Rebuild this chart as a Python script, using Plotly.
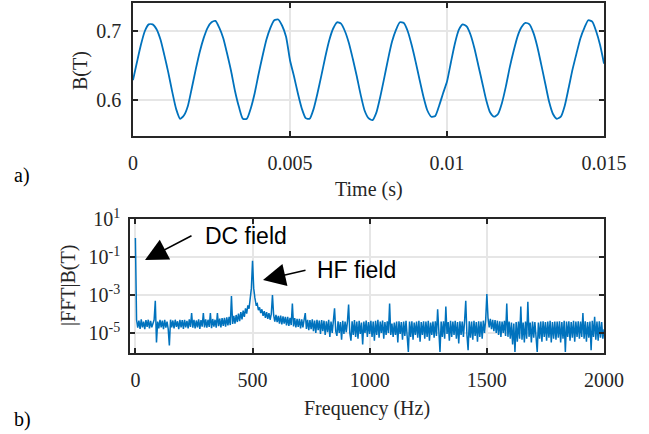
import plotly.graph_objects as go

W, H = 649, 434

# ---- top panel: B(T) vs time ----
time_ms = [i * 0.125 for i in range(121)]
b_field = [
    0.629, 0.655, 0.680, 0.700, 0.710, 0.710, 0.703, 0.688, 0.665, 0.640,
    0.612, 0.587, 0.573, 0.578, 0.592, 0.618, 0.645, 0.670, 0.690, 0.705,
    0.713, 0.715, 0.705, 0.690, 0.667, 0.642, 0.613, 0.590, 0.573, 0.573,
    0.588, 0.610, 0.638, 0.664, 0.688, 0.705, 0.716, 0.717, 0.708, 0.692,
    0.658, 0.635, 0.610, 0.588, 0.574, 0.573, 0.587, 0.610, 0.636, 0.663,
    0.687, 0.704, 0.713, 0.711, 0.700, 0.683, 0.660, 0.635, 0.608, 0.585,
    0.574, 0.571, 0.582, 0.605, 0.632, 0.660, 0.685, 0.702, 0.713, 0.712,
    0.700, 0.680, 0.656, 0.630, 0.605, 0.585, 0.576, 0.577, 0.592, 0.610,
    0.627, 0.655, 0.682, 0.702, 0.710, 0.707, 0.695, 0.675, 0.650, 0.625,
    0.600, 0.582, 0.576, 0.580, 0.596, 0.620, 0.648, 0.672, 0.693, 0.706,
    0.712, 0.710, 0.698, 0.678, 0.652, 0.625, 0.598, 0.580, 0.573, 0.576,
    0.592, 0.618, 0.645, 0.668, 0.690, 0.705, 0.716, 0.714, 0.700, 0.680,
    0.653,
]
time_s = [t / 1000.0 for t in time_ms]

# ---- bottom panel: log10 |FFT| sampled every 5 Hz, 0..2000 Hz ----
fft_log10 = [
    # 0 - 95
    0.0, -4.3, -4.72, -4.35, -4.78, -4.28, -4.7, -4.4, -4.8, -4.32,
    -4.68, -4.3, -4.75, -4.36, -4.7, -4.45, -4.3, -3.3, -5.5, -4.4,
    # 100 - 195
    -4.75, -4.3, -4.7, -4.35, -4.8, -4.3, -4.72, -4.4, -4.78, -5.65,
    -4.3, -4.7, -4.34, -4.76, -4.3, -4.68, -4.38, -4.8, -4.3, -4.7,
    # 200 - 295
    -4.32, -4.78, -4.3, -4.7, -4.36, -4.75, -4.28, -4.68, -3.95, -4.72,
    -4.3, -4.76, -4.34, -4.7, -4.28, -4.78, -4.32, -4.66, -3.95, -4.7,
    # 300 - 395
    -4.28, -4.72, -4.3, -4.68, -3.95, -4.74, -4.26, -4.66, -4.3, -4.72,
    -3.95, -4.64, -4.24, -4.7, -4.22, -4.62, -4.2, -4.66, -4.18, -4.6,
    # 400 - 495
    -4.15, -4.58, -3.05, -4.52, -4.1, -4.5, -4.05, -4.42, -3.98, -4.38,
    -3.9, -4.28, -3.82, -4.15, -3.7, -3.98, -3.55, -3.72, -3.2, -2.65,
    # 500 - 595
    -1.2, -2.65, -3.15, -3.5, -3.45, -3.8, -3.65, -3.95, -3.75, -4.1,
    -3.85, -4.2, -3.9, -4.25, -3.95, -4.3, -4.0, -3.0, -4.05, -4.4,
    # 600 - 695
    -4.05, -4.42, -4.1, -4.5, -4.08, -4.55, -4.12, -4.5, -4.15, -4.6,
    -4.15, -4.62, -4.2, -4.58, -3.45, -4.65, -4.22, -4.7, -4.25, -4.68,
    # 700 - 795
    -4.25, -4.75, -4.28, -4.7, -4.3, -3.95, -4.78, -4.3, -4.85, -4.32,
    -4.8, -4.28, -4.9, -4.35, -5.0, -4.3, -4.85, -4.35, -5.05, -4.32,
    # 800 - 895
    -4.9, -4.35, -5.1, -4.38, -4.95, -4.3, -5.2, -4.4, -5.0, -4.35,
    -3.7, -4.9, -5.15, -4.38, -5.0, -4.42, -5.35, -4.36, -5.05, -4.4,
    # 900 - 995
    -4.95, -4.4, -3.5, -5.0, -5.4, -4.38, -5.1, -4.32, -5.2, -4.4,
    -5.3, -4.36, -5.05, -4.45, -5.6, -4.4, -5.0, -4.34, -5.2, -4.42,
    # 1000 - 1095
    -5.05, -4.36, -5.2, -4.4, -5.4, -4.35, -5.1, -4.3, -5.25, -4.4,
    -5.0, -4.34, -5.3, -4.42, -5.1, -4.38, -5.0, -3.45, -5.1, -4.5,
    # 1100 - 1195
    -5.2, -4.45, -5.1, -4.4, -5.5, -4.38, -5.05, -4.42, -5.35, -4.4,
    -5.15, -4.36, -5.0, -6.0, -4.4, -5.2, -4.38, -5.35, -4.45, -5.1,
    # 1200 - 1295
    -4.4, -5.25, -4.36, -5.45, -4.42, -5.1, -4.38, -5.3, -4.4, -5.2,
    -4.35, -5.4, -4.45, -5.1, -4.4, -5.25, -4.38, -5.15, -3.75, -5.1,
    # 1300 - 1395
    -6.0, -4.4, -5.2, -4.38, -5.3, -3.6, -5.05, -4.42, -5.4, -4.36,
    -5.2, -4.4, -5.1, -4.35, -5.3, -4.42, -5.55, -4.38, -5.1, -4.4,
    # 1400 - 1495
    -5.2, -4.36, -3.3, -5.1, -5.9, -4.38, -5.25, -4.4, -5.35, -4.36,
    -5.15, -4.42, -5.45, -4.38, -5.2, -4.4, -5.3, -4.35, -5.0, -4.3,
    # 1500 - 1595
    -2.95, -4.2, -4.7, -4.25, -4.8, -4.3, -4.9, -4.32, -5.0, -4.35,
    -5.1, -4.38, -5.2, -4.4, -5.0, -4.36, -5.15, -3.45, -5.2, -4.4,
    # 1600 - 1695
    -5.3, -4.45, -5.6, -4.5, -6.0, -4.42, -5.45, -4.4, -5.3, -3.6,
    -5.35, -4.45, -5.5, -4.4, -5.3, -3.35, -5.2, -4.45, -5.5, -4.4,
    # 1700 - 1795
    -5.25, -4.42, -5.5, -6.0, -4.45, -5.3, -4.4, -5.45, -4.38, -5.2,
    -4.42, -5.4, -4.4, -5.25, -4.36, -5.5, -4.42, -5.3, -4.4, -5.35,
    # 1800 - 1895
    -4.4, -5.25, -4.38, -5.5, -4.42, -5.3, -4.36, -6.0, -4.4, -5.2,
    -4.38, -5.4, -4.42, -5.25, -4.35, -5.45, -4.4, -5.2, -4.38, -5.3,
    # 1900 - 1995
    -4.4, -5.2, -3.95, -5.3, -4.38, -5.45, -4.42, -5.25, -4.4, -5.9,
    -4.36, -5.2, -4.15, -5.35, -4.4, -5.4, -4.38, -5.25, -4.42, -5.3,
    # 2000
    -4.8,
]
freq_step_hz = 5
freq_hz = [freq_step_hz * i for i in range(len(fft_log10))]
fft_amp = [10 ** v for v in fft_log10]

top_xticks = [0, 0.005, 0.01, 0.015]
top_xtext = ["0", "0.005", "0.01", "0.015"]
top_yticks = [0.6, 0.7]
bot_xticks = [0, 500, 1000, 1500, 2000]
bot_yticks = [1e-5, 1e-3, 1e-1, 1e1]
bot_ytext = ["10<sup>-5</sup>", "10<sup>-3</sup>", "10<sup>-1</sup>", "10<sup>1</sup>"]

LINE = "#0072BD"
AX = "#262626"
GRID = "#e6e6e6"
SERIF = "Liberation Serif"
SANS = "Liberation Sans"
FS = 20

def px(x):
    return x / W

def py(y):
    return 1 - y / H

fig = go.Figure()
fig.add_trace(go.Scatter(x=time_s, y=b_field, mode="lines",
                         line=dict(color=LINE, width=1.8, shape="spline", smoothing=0.6),
                         xaxis="x", yaxis="y", showlegend=False))
fig.add_trace(go.Scatter(x=freq_hz, y=fft_amp, mode="lines",
                         line=dict(color=LINE, width=1.5),
                         xaxis="x2", yaxis="y2", showlegend=False))

axis_common = dict(showline=True, linecolor=AX, linewidth=1.5, mirror="ticks",
                   ticks="inside", ticklen=5, tickwidth=1.5, tickcolor=AX,
                   showgrid=True, gridcolor=GRID, gridwidth=2, zeroline=False,
                   automargin=False,
                   tickfont=dict(family=SERIF, size=FS, color=AX))

fig.update_layout(
    width=W, height=H,
    margin=dict(l=0, r=0, t=0, b=0, autoexpand=False),
    paper_bgcolor="white", plot_bgcolor="white",
    xaxis=dict(domain=[px(133), px(604)], range=[0, 0.015],
               tickvals=top_xticks, ticktext=top_xtext,
               anchor="y", ticklabelstandoff=8, **axis_common),
    yaxis=dict(domain=[py(136), py(3)], range=[0.548, 0.741],
               tickvals=top_yticks, ticktext=["0.6", "0.7"],
               anchor="x", ticklabelstandoff=6, **axis_common),
    xaxis2=dict(domain=[px(130), px(604)], range=[-23, 2000],
                tickvals=bot_xticks, anchor="y2", ticklabelstandoff=8, **axis_common),
    yaxis2=dict(domain=[py(353), py(219)], type="log", range=[-6.05, 1.0],
                tickvals=bot_yticks, ticktext=bot_ytext,
                anchor="x2", ticklabelstandoff=4, **axis_common),
)

ann = []
ann.append(dict(text="Time (s)", x=px(369), y=py(189), xref="paper", yref="paper",
                showarrow=False, xanchor="center", yanchor="middle",
                font=dict(family=SERIF, size=FS, color=AX)))
ann.append(dict(text="Frequency (Hz)", x=px(367), y=py(408), xref="paper", yref="paper",
                showarrow=False, xanchor="center", yanchor="middle",
                font=dict(family=SERIF, size=FS, color=AX)))
ann.append(dict(text="B(T)", x=px(80), y=py(71), xref="paper", yref="paper",
                showarrow=False, xanchor="center", yanchor="middle", textangle=-90,
                font=dict(family=SERIF, size=FS, color=AX)))
ann.append(dict(text="|FFT|B(T)", x=px(68), y=py(286), xref="paper", yref="paper",
                showarrow=False, xanchor="center", yanchor="middle", textangle=-90,
                font=dict(family=SERIF, size=FS, color=AX)))
ann.append(dict(text="a)", x=px(12), y=py(175), xref="paper", yref="paper",
                showarrow=False, xanchor="left", yanchor="middle",
                font=dict(family=SERIF, size=FS, color="black")))
ann.append(dict(text="b)", x=px(12), y=py(419), xref="paper", yref="paper",
                showarrow=False, xanchor="left", yanchor="middle",
                font=dict(family=SERIF, size=FS, color="black")))
ann.append(dict(text="DC field", x=px(203), y=py(236), xref="paper", yref="paper",
                showarrow=False, xanchor="left", yanchor="middle",
                font=dict(family=SANS, size=23, color="black")))
ann.append(dict(text="HF field", x=px(315), y=py(270), xref="paper", yref="paper",
                showarrow=False, xanchor="left", yanchor="middle",
                font=dict(family=SANS, size=23, color="black")))
# arrows
ann.append(dict(text="", x=px(145), y=py(260), xref="paper", yref="paper",
                showarrow=True, ax=48, ay=-25, arrowhead=2, arrowsize=3,
                arrowwidth=1.5, arrowcolor="black"))
ann.append(dict(text="", x=px(263), y=py(280), xref="paper", yref="paper",
                showarrow=True, ax=44, ay=-10, arrowhead=2, arrowsize=3,
                arrowwidth=1.5, arrowcolor="black"))
fig.update_layout(annotations=ann)

fig.write_html("out.html")
